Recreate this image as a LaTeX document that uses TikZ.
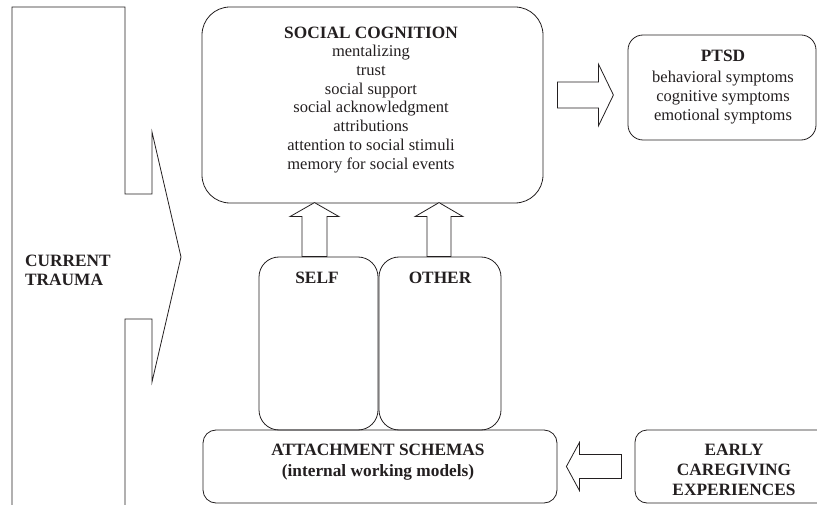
\documentclass[tikz,border=0pt]{standalone}
\usepackage{fontspec}
\setmainfont{Liberation Serif}
\usetikzlibrary{calc}
\definecolor{ink}{RGB}{35,31,32}
\newcommand{\hb}[1]{{\fontsize{17.3}{18.7}\selectfont\bfseries #1}}
\tikzset{
  txt/.style={font=\fontsize{16.5}{18.7}\selectfont, text=ink, inner sep=0pt, align=center},
  btxt/.style={txt, font=\fontsize{17.3}{#1}\selectfont\bfseries},
  bx/.style={draw=ink, line width=0.8pt, rounded corners=#1, inner sep=0pt},
  blk/.style={draw=ink, line width=0.8pt, fill=white, line join=miter}
}
\begin{document}
\begin{tikzpicture}[x=1pt,y=-1pt]
\useasboundingbox (0,0) rectangle (817,505);
% Current trauma block arrow
\draw[blk, fill=none] (12,506) -- (12,7) -- (125,7) -- (125,194) -- (152,194) -- (152,132)
  -- (181,257) -- (152,382) -- (152,319) -- (125,319) -- (125,506);
\node[btxt=19.5, anchor=north west, align=left] (trauma) at (25,254.5) {CURRENT\\TRAUMA};
% boxes
\node[bx=28, minimum width=341pt, minimum height=196pt] (sc) at (372.5,105) {};
\node[bx=15, minimum width=188pt, minimum height=105pt] (ptsd) at (722,87.5) {};
\node[bx=20, minimum width=119pt, minimum height=173pt] (self) at (318.5,343.5) {};
\node[bx=20, minimum width=122pt, minimum height=173pt] (other) at (440,343.5) {};
\node[bx=13, minimum width=354pt, minimum height=73pt] (att) at (380,466.5) {};
\node[bx=12, minimum width=206pt, minimum height=73pt] (early) at (738,466.5) {};
% texts
\node[txt, anchor=north] (sctext) at (371,26.5) {\hb{SOCIAL COGNITION}\\mentalizing\\trust\\social support\\social acknowledgment\\attributions\\attention to social stimuli\\memory for social events};
\node[txt, anchor=north] (ptsdtext) at (723,49.5) {\hb{PTSD}\\[3pt]behavioral symptoms\\cognitive symptoms\\emotional symptoms};
\node[btxt=18.7, anchor=north] (selftext) at (317,271.5) {SELF};
\node[btxt=18.7, anchor=north] (othertext) at (440,271.5) {OTHER};
\node[btxt=21, anchor=north] (atttext) at (378,443.5) {ATTACHMENT SCHEMAS\\(internal working models)};
\node[btxt=20, anchor=north] (earlytext) at (734,444) {EARLY\\CAREGIVING\\EXPERIENCES};
% block arrows
\draw[blk] ($(self.north)+(-16.5,0)$) -- ++(0,-40) -- ++(-12,0) -- ++(24.5,-14) -- ++(24.5,14) -- ++(-12,0) -- ++(0,40) -- cycle;
\draw[blk] ($(other.north)+(-13,0)$) -- ++(0,-40) -- ++(-12,0) -- ++(24,-14) -- ++(24,14) -- ++(-12,0) -- ++(0,40) -- cycle;
\draw[blk] ($(sc.east)+(14,-23)$) -- ++(41,0) -- ++(0,-18) -- ++(15,31) -- ++(-15,31) -- ++(0,-18) -- ++(-41,0) -- cycle;
\draw[blk] ($(att.east)+(9,0)$) -- ++(13,-24) -- ++(0,12) -- ++(42,0) -- ++(0,24) -- ++(-42,0) -- ++(0,12) -- cycle;
\end{tikzpicture}
\end{document}
